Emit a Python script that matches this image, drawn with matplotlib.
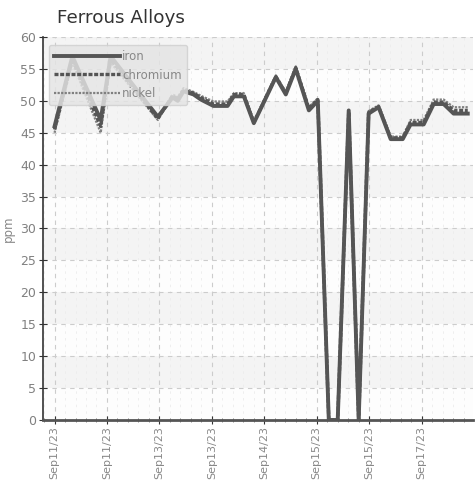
import matplotlib
matplotlib.use("Agg")
import matplotlib.pyplot as plt
from matplotlib.ticker import MultipleLocator

# ---- data (x in tick-interval units; tick k is at x=k) ----
tick_labels = ["Sep11/23", "Sep11/23", "Sep13/23", "Sep13/23",
               "Sep14/23", "Sep15/23", "Sep15/23", "Sep17/23"]

x_vals = [0.00, 0.34, 0.88, 1.07, 1.97, 2.25, 2.35, 2.46, 2.65, 2.79,
          3.03, 3.30, 3.42, 3.61, 3.80, 4.22, 4.41, 4.60, 4.85, 5.02,
          5.23, 5.40, 5.61, 5.80, 5.99, 6.18, 6.41, 6.64, 6.79, 7.04,
          7.23, 7.42, 7.61, 7.88]

iron = [46.0, 57.0, 47.0, 57.0, 47.5, 50.5, 50.0, 51.5, 51.0, 50.2,
        49.2, 49.2, 50.7, 50.7, 46.5, 53.7, 51.0, 55.0, 48.5, 50.0,
        0.0, 0.0, 48.5, 0.0, 48.0, 49.0, 44.0, 44.0, 46.3, 46.3,
        49.5, 49.5, 48.0, 48.0]

chromium = [45.5, 56.5, 46.0, 56.5, 47.2, 50.8, 50.3, 51.7, 51.2, 50.5,
            49.5, 49.5, 51.0, 51.0, 46.6, 53.8, 51.2, 55.2, 48.8, 50.2,
            0.0, 0.0, 48.3, 0.0, 48.2, 49.1, 44.2, 44.2, 46.6, 46.6,
            49.8, 49.8, 48.5, 48.5]

nickel = [45.0, 56.0, 45.0, 56.0, 47.0, 51.0, 50.6, 52.0, 51.4, 50.8,
          49.9, 49.9, 51.2, 51.2, 46.8, 54.0, 51.4, 55.4, 49.0, 50.4,
          0.0, 0.0, 48.2, 0.0, 48.4, 49.3, 44.4, 44.4, 47.0, 47.0,
          50.2, 50.2, 49.0, 49.0]

y_ticks = [0, 5, 10, 15, 20, 25, 30, 35, 40, 45, 50, 55, 60]

narrow = ["Liberation Sans Narrow", "DejaVu Sans"]

fig = plt.figure(figsize=(4.77, 4.86), dpi=100)
ax = fig.add_axes([43 / 477, 1 - 420 / 486, (473 - 43) / 477, (420 - 37) / 486])

ax.set_xlim(-0.22, 7.98)
ax.set_ylim(0, 60)

# alternating bands
for i, lo in enumerate(range(0, 60, 5)):
    if i % 2 == 1:
        ax.axhspan(lo, lo + 5, color="#f4f4f4", zorder=0, lw=0)
ax.set_facecolor("#fdfdfd")

# grid
ax.set_yticks(y_ticks)
ax.set_xticks(range(len(tick_labels)))
ax.xaxis.set_minor_locator(MultipleLocator(0.2))
ax.grid(True, which="major", axis="both", color="#cccccc", ls=(0, (4, 4)), lw=0.8, zorder=1)
ax.grid(True, which="minor", axis="x", color="#ececec", ls=(0, (3, 5)), lw=0.6, zorder=1)

ax.plot(x_vals, nickel, color="#808080", lw=1.6, ls=(0, (1, 0.6)), label="nickel", zorder=3)
ax.plot(x_vals, chromium, color="#555555", lw=2.4, ls=(0, (1.2, 0.5)), label="chromium", zorder=4)
ax.plot(x_vals, iron, color="#555555", lw=2.8, label="iron", zorder=5)

ax.set_xticklabels(tick_labels, rotation=90, fontsize=8, color="#888888", family=narrow)
ax.set_yticklabels([str(v) for v in y_ticks], fontsize=9, color="#808080", family=narrow)

for s in ["top", "right"]:
    ax.spines[s].set_visible(False)
ax.spines["left"].set_color("#333333")
ax.spines["left"].set_linewidth(1.2)
ax.spines["bottom"].set_color("#555555")
ax.spines["bottom"].set_linewidth(2)

ax.tick_params(axis="y", which="major", direction="inout", length=6, color="#333333", pad=2)
ax.tick_params(axis="x", which="major", direction="inout", length=6, color="#333333", pad=1.5)
ax.tick_params(axis="x", which="minor", direction="inout", length=3, color="#777777")

ax.set_ylabel("ppm", fontsize=8.5, color="#888888", family=narrow, labelpad=4)

handles, labels = ax.get_legend_handles_labels()
order = [2, 1, 0]
leg = ax.legend([handles[i] for i in order], [labels[i] for i in order],
                loc="upper left", bbox_to_anchor=(6 / 430, 1 - 8 / 383),
                frameon=True, handlelength=5.6, handletextpad=0.15,
                labelspacing=0.45, borderpad=0.45, borderaxespad=0,
                prop={"family": narrow, "size": 8.5})
leg.get_frame().set_facecolor("#e4e4e4")
leg.get_frame().set_alpha(0.83)
leg.get_frame().set_edgecolor("#d0d0d0")
for t in leg.get_texts():
    t.set_color("#888888")
leg.set_zorder(10)

fig.text(57 / 477, 1 - 18 / 486, "Ferrous Alloys", fontsize=13.2, color="#333333",
         va="center", ha="left", family="DejaVu Sans")

fig.savefig("out.png", dpi=100)
